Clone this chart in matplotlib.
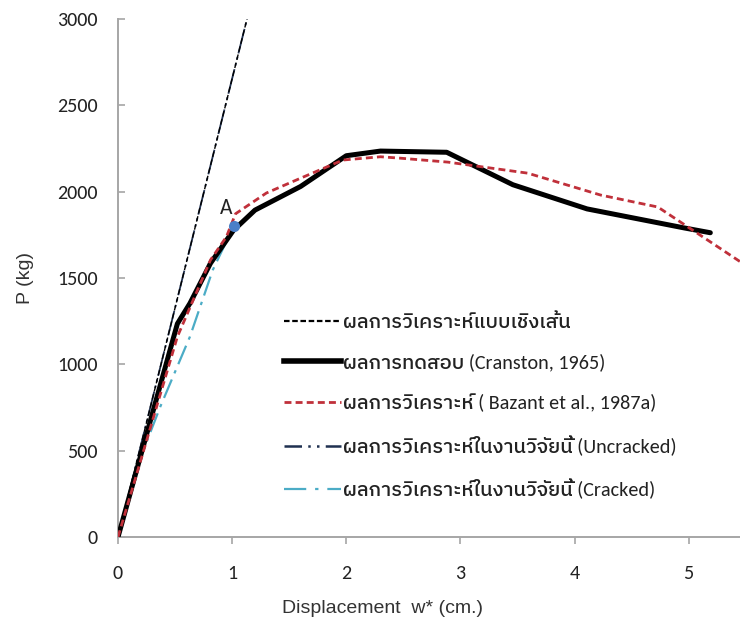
import matplotlib
matplotlib.use("Agg")
import matplotlib.pyplot as plt
from matplotlib.lines import Line2D

# Load–displacement data (P in kg, w* in cm)
linear_w = [0.0, 1.13]
linear_p = [0, 3000]

uncracked_w = [0.0, 1.13]
uncracked_p = [0, 3000]

cracked_w = [0.0, 0.18, 0.37, 0.63, 0.83, 0.97]
cracked_p = [0, 430, 754, 1160, 1546, 1740]

test_w = [0.0, 0.52, 0.63, 0.81, 1.01, 1.20, 1.60, 2.00, 2.30, 2.88, 3.46, 4.11, 4.96, 5.19]
test_p = [0, 1235, 1353, 1585, 1775, 1893, 2030, 2208, 2235, 2228, 2040, 1900, 1790, 1762]

bazant_w = [0.0, 0.52, 0.81, 0.95, 1.03, 1.30, 1.60, 1.97, 2.30, 2.47, 2.89, 3.59, 4.23, 4.73, 5.45]
bazant_p = [0, 1160, 1604, 1739, 1872, 1992, 2078, 2183, 2202, 2194, 2171, 2107, 1980, 1911, 1595]

point_a = (1.02, 1800)

labels = [
    "ผลการวิเคราะห์แบบเชิงเส้น",
    "ผลการทดสอบ (Cranston, 1965)",
    "ผลการวิเคราะห์ ( Bazant et al., 1987a)",
    "ผลการวิเคราะห์ในงานวิจัยนี้ (Uncracked)",
    "ผลการวิเคราะห์ในงานวิจัยนี้ (Cracked)",
]

xticks = [0, 1, 2, 3, 4, 5]
yticks = [0, 500, 1000, 1500, 2000, 2500, 3000]

thai_font = ["Carlito", "Lato", "IBM Plex Sans Thai", "Noto Sans Thai", "DejaVu Sans"]
tick_font = ["Carlito", "Lato", "DejaVu Sans"]
axis_font = ["Liberation Sans", "DejaVu Sans"]

fig = plt.figure(figsize=(7.4, 6.18), dpi=100)
ax = fig.add_axes([0.1595, 0.1311, 0.8405, 0.8382])

c_red = "#c0303a"
c_navy = "#1f3050"
c_teal = "#4bacc6"

ax.plot(uncracked_w, uncracked_p, color=c_navy, lw=1.3,
        dashes=(14, 2, 1.5, 2, 1.5, 2), zorder=3)
ax.plot(linear_w, linear_p, color="black", lw=1.0, dashes=(4, 2), zorder=3)
ax.plot(cracked_w, cracked_p, color=c_teal, lw=1.6,
        dashes=(9, 3, 1.5, 3), zorder=3)
ax.plot(test_w, test_p, color="black", lw=3.6, solid_joinstyle="round",
        solid_capstyle="round", zorder=4)
ax.plot(bazant_w, bazant_p, color=c_red, lw=2.0, dashes=(2.5, 1.5), zorder=5)

ax.plot(*point_a, "o", color="#4a7fc8", ms=8, mec="none", zorder=6)
ax.text(point_a[0] - 0.07, point_a[1] + 50, "A", fontsize=15.5,
        family=tick_font, ha="center", va="bottom", color="#222222")

ax.set_xlim(0, 5.45)
ax.set_ylim(0, 3000)
ax.set_xticks(xticks)
ax.set_yticks(yticks)

for side in ("top", "right"):
    ax.spines[side].set_visible(False)
for side in ("left", "bottom"):
    ax.spines[side].set_color("#a6a6a6")
    ax.spines[side].set_linewidth(1.4)

ax.tick_params(axis="y", direction="in", length=5, width=1.2, color="#a6a6a6",
               pad=14.5, labelsize=14.5, labelcolor="#222222")
ax.tick_params(axis="x", direction="out", length=5, width=1.2, color="#a6a6a6",
               pad=15, labelsize=14.5, labelcolor="#222222")
for lab in ax.get_xticklabels() + ax.get_yticklabels():
    lab.set_family(tick_font)

ax.set_xlabel("Displacement  w* (cm.)", fontsize=14, family=axis_font,
              color="#333333")
ax.xaxis.set_label_coords((382 - 118) / 622, -0.122)
ax.set_ylabel("P (kg)", fontsize=14, family=axis_font, color="#333333")
ax.yaxis.set_label_coords(-0.135, 0.5)

handles = [
    Line2D([], [], color="black", lw=1.6, dashes=(2.5, 1.2)),
    Line2D([], [], color="black", lw=4.0),
    Line2D([], [], color=c_red, lw=2.0, dashes=(2.5, 1.5)),
    Line2D([], [], color=c_navy, lw=1.8, dashes=(7, 2.5, 1, 2.5, 1, 2.5)),
    Line2D([], [], color=c_teal, lw=1.6, dashes=(10, 4, 1.5, 4)),
]
leg = ax.legend(handles, labels, loc="upper left",
                bbox_to_anchor=(266 / 740, 1 - 295 / 618),
                bbox_transform=fig.transFigure, frameon=False,
                handlelength=2.8, handletextpad=0.1, labelspacing=1.12,
                prop={"family": thai_font, "size": 14.5, "weight": "medium"})
for t in leg.get_texts():
    t.set_color("#222222")

fig.savefig("out.png", dpi=100)
